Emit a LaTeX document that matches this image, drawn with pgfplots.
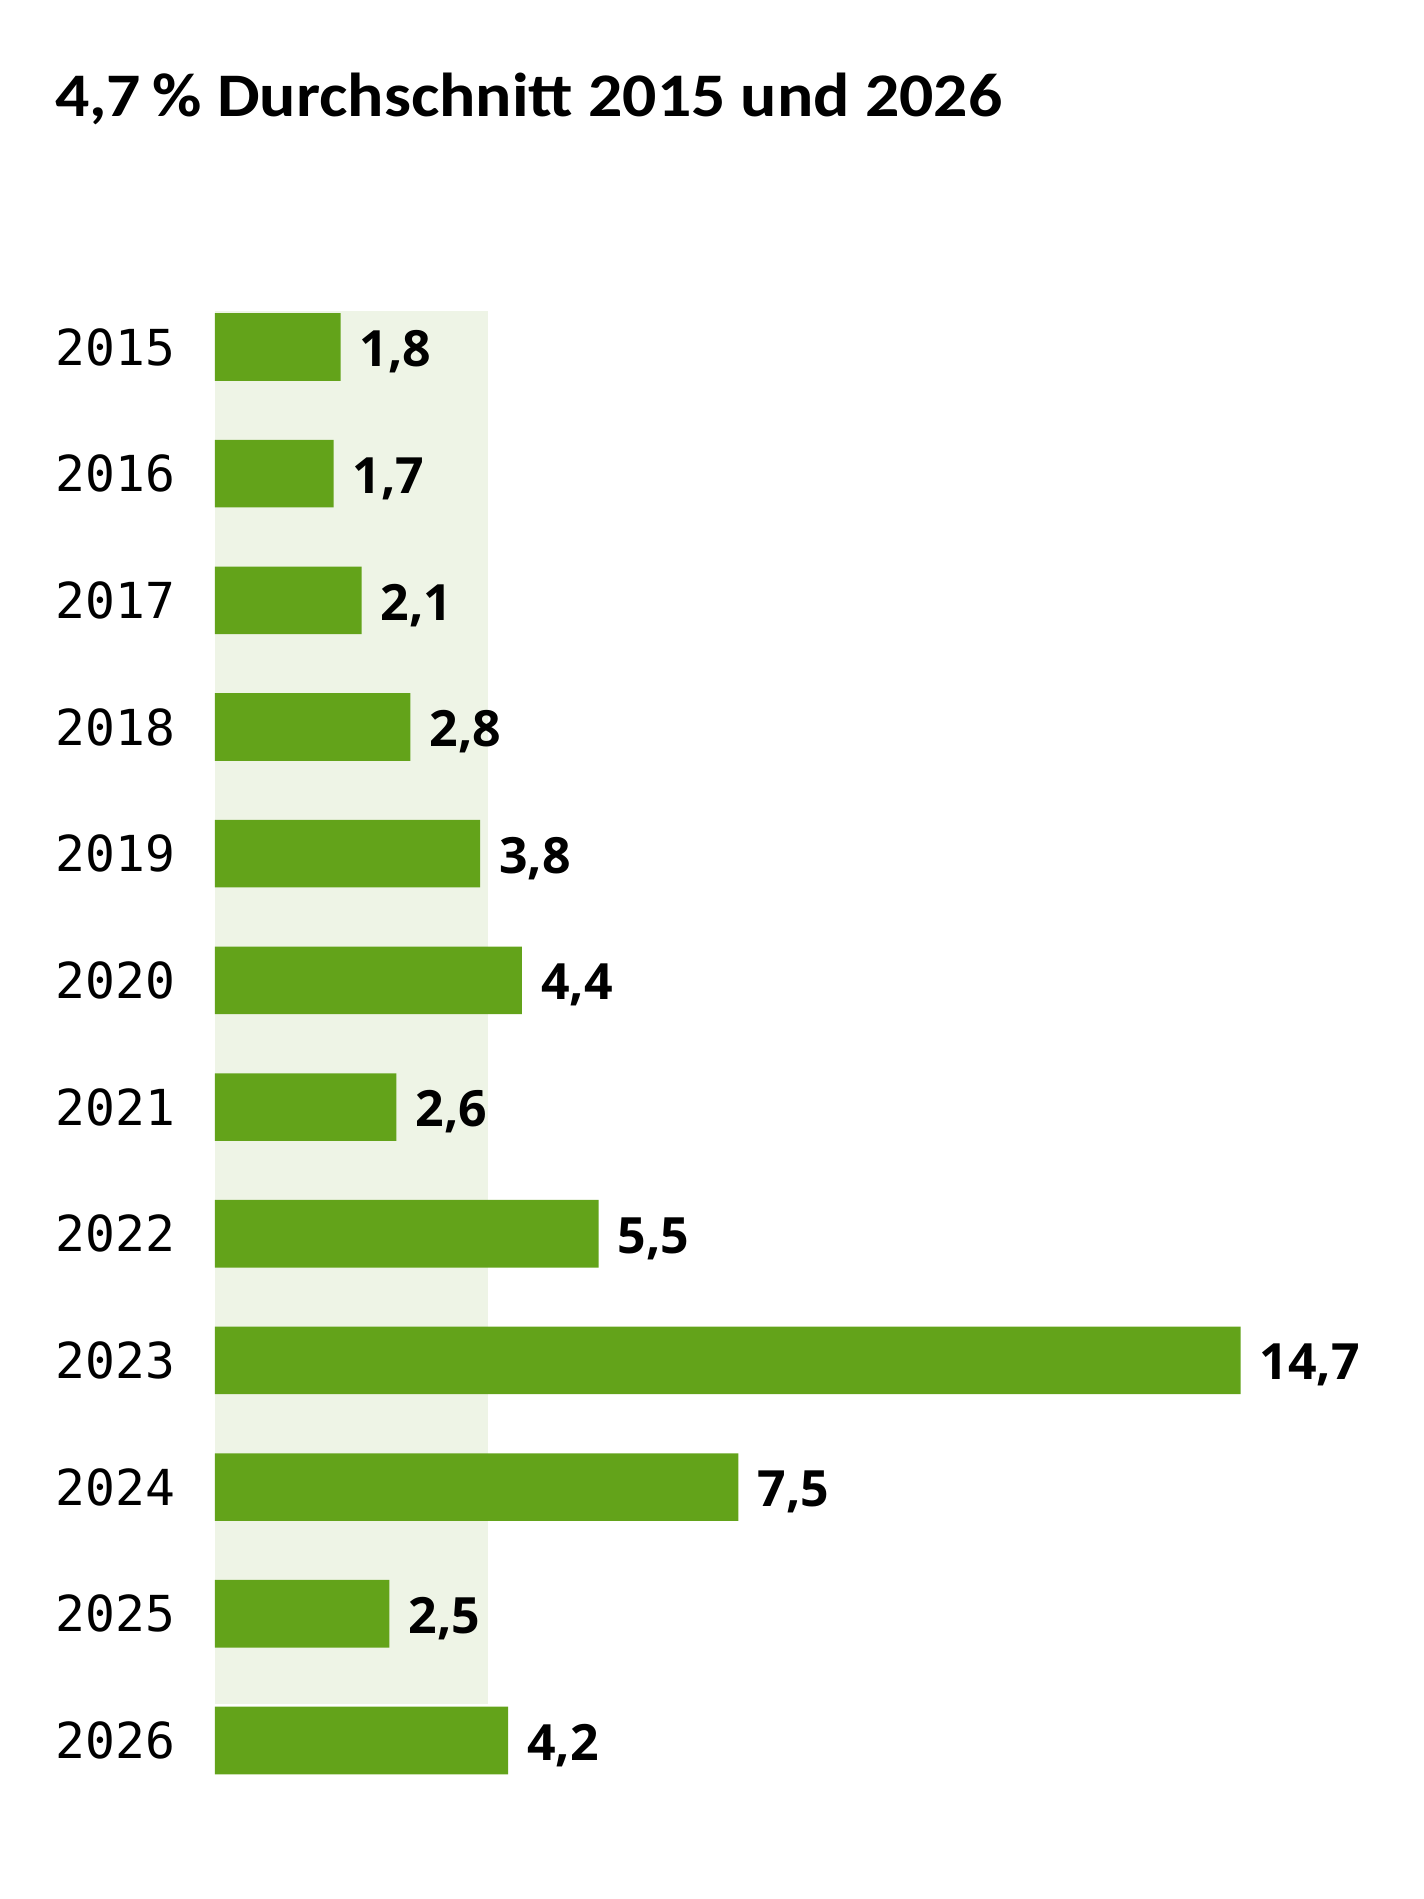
\documentclass[border=0pt]{standalone}
\usepackage{fontspec}
\usepackage{pgfplots}
\usepackage{pgfplotstable}
\pgfplotsset{compat=1.18}
\setmainfont{Open Sans}
\newfontfamily\titlefont{Carlito}
\newfontfamily\yearfont{DejaVu Sans Mono}
\newfontfamily\valfont{Open Sans}
\definecolor{bargreen}{RGB}{99,163,26}
\definecolor{bandgreen}{RGB}{238,244,230}

\pgfplotstableread{
idx val lab
0 1.8 1,8
1 1.7 1,7
2 2.1 2,1
3 2.8 2,8
4 3.8 3,8
5 4.4 4,4
6 2.6 2,6
7 5.5 5,5
8 14.7 14,7
9 7.5 7,5
10 2.5 2,5
11 4.2 4,2
}\data

\pgfplotstableread{
x y
0 -0.287
3.92 -0.287
3.92 10.71
0 10.71
}\band

\begin{document}
\begin{tikzpicture}
\path[use as bounding box] (0,0) rectangle (356pt,474.75pt);
\node[anchor=base west, inner sep=0pt, font=\titlefont\bfseries\fontsize{15.5}{18}\selectfont] at (13.6pt,445.7pt) {\scalebox{1.092}[1]{4,7\,\% Durchschnitt 2015 und 2026}};
\begin{axis}[
  at={(53.75pt,403.85pt)}, anchor=north west,
  scale only axis, width=256.4pt, height=380.05pt,
  xmin=0, xmax=14.7, ymin=-0.5, ymax=11.5, y dir=reverse,
  axis x line=none,
  axis y line*=left,
  y axis line style={draw=none},
  ytick={0,1,2,3,4,5,6,7,8,9,10,11},
  yticklabels={2015,2016,2017,2018,2019,2020,2021,2022,2023,2024,2025,2026},
  ytick style={draw=none},
  major tick length=0pt,
  yticklabel style={font=\yearfont\fontsize{12.4}{15}\selectfont, inner sep=0pt, anchor=east, xshift=-9.7pt},
  clip=false,
]
\addplot[fill=bandgreen, draw=none] table[x=x, y=y] {\band} -- cycle;
\addplot[xbar, bar width=16.9pt, fill=bargreen, draw=none,
  nodes near coords, point meta=explicit symbolic,
  every node near coord/.append style={font=\valfont\bfseries\fontsize{12.5}{15}\selectfont, anchor=west, inner sep=0pt, xshift=4.6pt, yshift=-1.2pt}]
  table[x=val, y=idx, meta=lab] {\data};
\end{axis}
\end{tikzpicture}
\end{document}
